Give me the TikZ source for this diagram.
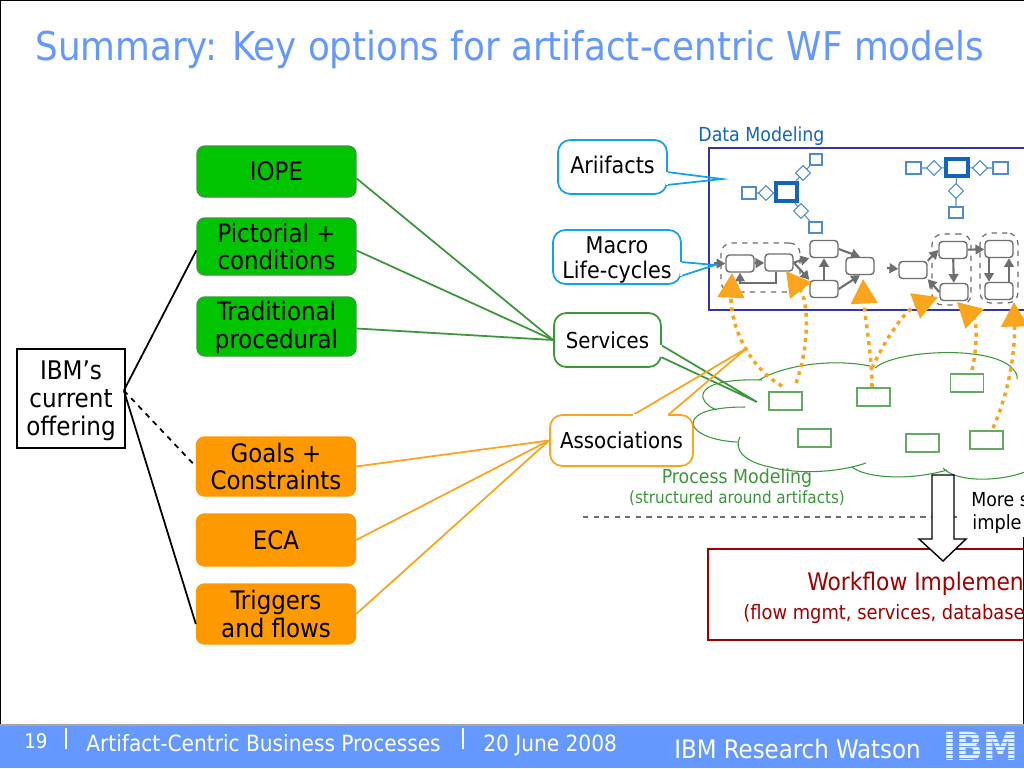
\documentclass[tikz,border=0pt]{standalone}
\usepackage{fontspec}
\setmainfont{DejaVu Sans Condensed}
\usetikzlibrary{arrows.meta,shapes.geometric}
\definecolor{wfblue}{RGB}{102,153,255}
\definecolor{boxgreen}{RGB}{0,196,0}
\definecolor{boxorange}{RGB}{255,153,0}
\definecolor{linegreen}{RGB}{60,150,60}
\definecolor{lineorange}{RGB}{250,165,30}
\definecolor{callblue}{RGB}{20,160,240}
\definecolor{schemablue}{RGB}{20,100,190}
\definecolor{wfgrey}{RGB}{110,110,110}
\definecolor{wfred}{RGB}{160,0,0}
\tikzset{
  optbox/.style={rounded corners=4.5pt, fill=#1, line width=0.8pt, minimum width=3.18cm, align=center, font=\fontsize{14.5}{15.8}\selectfont, inner sep=0pt},
  callbox/.style={rounded corners=7pt, draw=#1, fill=white, line width=1pt, align=center, font=\fontsize{12.5}{14.5}\selectfont, inner sep=0pt},
  procbox/.style={draw=linegreen!80, fill=white, line width=0.7pt, minimum width=0.66cm, minimum height=0.36cm, inner sep=0pt},
  lifebox/.style={rounded corners=2pt, draw=wfgrey, fill=white, line width=0.8pt, minimum width=0.56cm, minimum height=0.34cm, inner sep=0pt},
  entbox/.style={draw=schemablue!75, fill=white, line width=0.7pt, inner sep=0pt},
  keybox/.style={draw=schemablue, fill=white, line width=2pt, inner sep=0pt},
  reldiamond/.style={draw=schemablue!75, fill=white, line width=0.6pt, inner sep=0pt, minimum size=0.3cm, shape=diamond},
  lifearrow/.style={draw=wfgrey, line width=1.2pt, -{Triangle[length=5pt,width=5.5pt]}},
  dotarrow/.style={lineorange, line width=2pt, dash pattern=on 2.2pt off 2.6pt, -{Triangle[length=14pt,width=15pt,fill=lineorange]}},
  cloudline/.style={draw=linegreen, line width=0.6pt},
  foottext/.style={text=white, anchor=base west, inner sep=0pt, font=\fontsize{12.75}{13}\selectfont}
}
\begin{document}
\begin{tikzpicture}[x=0.02cm, y=-0.02cm]
\clip (0,0) rectangle (1024,768);
\fill [white] (0,0) rectangle (1024,768);

% slide frame and title
\draw [black, line width=1pt] (0,725) -- (0,0) -- (1024,0);
\draw [black, line width=1pt] (1024,537) -- (1024,725);
\node [anchor=base west, inner sep=0pt, text=wfblue, font=\fontsize{22.6}{24}\selectfont] (title) at (35,60) {Summary: Key options for artifact-centric WF models};

% left column
\node [draw=black, fill=white, line width=1pt, minimum width=2.16cm, minimum height=1.98cm, align=center, inner sep=0pt, font=\fontsize{14.6}{15.8}\selectfont] (ibm) at (71,398.5) {\rule{0pt}{13.5pt}IBM’s\\current\\offering};

\node [optbox=boxgreen, draw=linegreen, minimum height=1.02cm] (iope) at (276.5,171.5) {IOPE};
\node [optbox=boxgreen, draw=linegreen, minimum height=1.14cm] (pict) at (276.5,246.5) {Pictorial +\\conditions};
\node [optbox=boxgreen, draw=linegreen, minimum height=1.18cm] (trad) at (276.5,326.5) {\rule{0pt}{12.5pt}Traditional\\procedural};
\node [optbox=boxorange, draw=boxorange, minimum height=1.18cm] (goal) at (276,466.5) {Goals +\\Constraints};
\node [optbox=boxorange, draw=boxorange, minimum height=1.04cm] (eca) at (276,540) {ECA};
\node [optbox=boxorange, draw=boxorange, minimum height=1.2cm] (trig) at (276,614) {Triggers\\and flows};

% data modeling box
\draw [draw=blue!60!black!80, line width=0.8pt] (1030,148) -- (709,148) -- (709,310) -- (1030,310);
\node [anchor=base west, inner sep=0pt, text=schemablue, font=\fontsize{11}{12}\selectfont] (dlabel) at (698,141) {Data Modeling};

% artifact schema, left
\node [keybox, minimum width=0.42cm, minimum height=0.36cm] (k1) at (786.5,192) {};
\node [entbox, minimum width=0.28cm, minimum height=0.24cm] (e1) at (749,193) {};
\node [entbox, minimum width=0.24cm, minimum height=0.22cm] (e2) at (816,159.5) {};
\node [entbox, minimum width=0.26cm, minimum height=0.22cm] (e3) at (815.5,227.5) {};
\coordinate (r1) at (766,193);
\coordinate (r2) at (803,173);
\coordinate (r3) at (801,211);
\begin{scope}[draw=schemablue!75, line width=0.6pt]
\draw (e1) -- (r1) -- (k1);
\draw (k1) -- (r2) -- (e2);
\draw (k1) -- (r3) -- (e3);
\end{scope}
\node [reldiamond] (d1) at (r1) {};
\node [reldiamond] (d2) at (r2) {};
\node [reldiamond] (d3) at (r3) {};

% artifact schema, right
\node [keybox, minimum width=0.44cm, minimum height=0.34cm] (k2) at (957,167.5) {};
\node [entbox, minimum width=0.3cm, minimum height=0.24cm] (e4) at (913.5,168) {};
\node [entbox, minimum width=0.3cm, minimum height=0.24cm] (e5) at (1000.5,168) {};
\node [entbox, minimum width=0.28cm, minimum height=0.22cm] (e6) at (956,212.5) {};
\coordinate (r4) at (934,168);
\coordinate (r5) at (980,168);
\coordinate (r6) at (956,191);
\begin{scope}[draw=schemablue!75, line width=0.6pt]
\draw (e4) -- (r4) -- (k2);
\draw (k2) -- (r5) -- (e5);
\draw (k2) -- (r6) -- (e6);
\end{scope}
\node [reldiamond] (d4) at (r4) {};
\node [reldiamond] (d5) at (r5) {};
\node [reldiamond] (d6) at (r6) {};

% life-cycle groups
\begin{scope}[line width=0.7pt, dashed, rounded corners=6pt]
\node [draw=wfgrey, minimum width=1.58cm, minimum height=0.98cm] (g1) at (760.5,267.5) {};
\node [draw=wfgrey, minimum width=0.78cm, minimum height=1.42cm] (g2) at (951.5,269.5) {};
\node [draw=wfgrey, minimum width=0.76cm, minimum height=1.4cm] (g3) at (999,268) {};
\end{scope}

\node [lifebox] (la) at (740,263.5) {};
\node [lifebox] (lb) at (779,262.5) {};
\node [lifebox] (lc) at (824,249) {};
\node [lifebox] (ld) at (824,289) {};
\node [lifebox] (le) at (860,266) {};
\node [lifebox] (lf) at (913,270) {};
\node [lifebox] (lg) at (953,250) {};
\node [lifebox] (lh) at (954,292) {};
\node [lifebox] (li) at (999,249) {};
\node [lifebox] (lj) at (999,291) {};
\coordinate (linA) at (714,263.5);
\coordinate (linF) at (887,268);
\coordinate (loopL) at (740,283);

\begin{scope}[lifearrow]
\draw (linA) -- (la);
\draw (la) -- (lb);
\draw (lb.east) -- (lc.south west);
\draw (lb.east) -- (ld.north west);
\draw (ld) -- (lc);
\draw (lc.east) -- (le.north);
\draw (ld.east) -- (le.south);
\draw (linF) -- (lf);
\draw (lf.north east) -- (lg.west);
\draw (lh.west) -- (lf.south east);
\draw (lg) -- (lh);
\draw (lg) -- (li);
\draw ([xshift=-0.2cm]li.south) -- ([xshift=-0.2cm]lj.north);
\draw ([xshift=0.2cm]lj.north) -- ([xshift=0.2cm]li.south);
\draw ([xshift=-0.06cm]lb.south) |- (loopL) -- (la.south);
\end{scope}

% process modeling cloud
\begin{scope}[cloudline]
\draw (759,380) .. controls (782,366) and (830,358) .. (870,366);
\draw (875,368) .. controls (895,350) and (990,345) .. (1012,368) .. controls (1016,372) and (1018,376) .. (1017,379);
\draw (762,380) .. controls (735,379) and (700,382) .. (703,398) .. controls (705,404) and (711,408) .. (717,410);
\draw (745,407) .. controls (715,407) and (693,412) .. (693,424) .. controls (695,434) and (715,441) .. (737,442);
\draw (740,437) .. controls (733,450) and (745,462) .. (770,467) .. controls (800,475) and (840,472) .. (866,463);
\draw (852,467) .. controls (865,478) and (910,481) .. (947,470);
\draw (943,468) .. controls (955,482) and (1000,483) .. (1030,470);
\end{scope}

\node [procbox] (p1) at (785.5,401) {};
\node [procbox] (p2) at (873.5,397) {};
\node [procbox] (p3) at (967,383) {};
\node [procbox] (p4) at (814.5,438) {};
\node [procbox] (p5) at (922.5,443) {};
\node [procbox] (p6) at (986.5,440) {};

\node [text=linegreen, inner sep=0pt, font=\fontsize{11}{12}\selectfont] (plabel) at (737,478) {Process Modeling};
\node [text=linegreen, inner sep=0pt, font=\fontsize{9.6}{11}\selectfont] (plabel2) at (737,498) {(structured around artifacts)};

% orange dotted arrows
\draw [dotarrow] (782,386) .. controls (745,365) and (730,320) .. (732,273);
\draw [dotarrow] (796,383) .. controls (810,345) and (808,300) .. (786,271);
\draw [dotarrow] (872,387) .. controls (872,355) and (865,320) .. (863,279);
\draw [dotarrow] (872,368) .. controls (885,340) and (905,310) .. (938,297);
\draw [dotarrow] (972,370) .. controls (978,345) and (976,320) .. (957,302);
\draw [dotarrow] (993,428) .. controls (1010,390) and (1015,350) .. (1014,302);

% connectors from the left column
\begin{scope}[line width=1pt]
\draw [black] (ibm.east) ++(-2,-8) -- ([yshift=-0.08cm]pict.west);
\draw [black, dashed] (ibm.east) ++(-2,-8) -- (goal.west);
\draw [black] (ibm.east) ++(-2,-8) -- ([yshift=-0.2cm]trig.west);
\end{scope}

% callouts
\node [callbox=linegreen, minimum width=2.14cm, minimum height=1.08cm] (serv) at (607.5,340) {Services};
\node [callbox=lineorange, minimum width=2.86cm, minimum height=1.02cm] (asso) at (621.5,440.5) {Associations};
\node [callbox=callblue, minimum width=2.18cm, minimum height=1.08cm, font=\fontsize{13.1}{14.5}\selectfont, text depth=2pt] (arti) at (612.5,167) {Ariifacts};
\node [callbox=callblue, minimum width=2.56cm, minimum height=1.08cm, font=\fontsize{13.1}{14.3}\selectfont] (macr) at (617,257) {\rule{0pt}{12.5pt}Macro\\Life-cycles};

\begin{scope}[line width=1pt]
\draw [linegreen] (iope.east) ++(0,7) -- (serv.west);
\draw [linegreen] (pict.east) ++(0,4) -- (serv.west);
\draw [linegreen] (trad.east) ++(0,2) -- (serv.west);
\draw [lineorange] (goal.east) -- (asso.west);
\draw [lineorange] (eca.east) -- (asso.west);
\draw [lineorange] (trig.east) -- (asso.west);
\end{scope}

\coordinate (artiA) at (667,172);
\coordinate (artiB) at (667,185);
\coordinate (artiT) at (722,179);
\coordinate (macrA) at (681,262);
\coordinate (macrB) at (681,276);
\coordinate (macrT) at (715,265);
\coordinate (servA) at (661,345);
\coordinate (servB) at (661,357);
\coordinate (servT) at (757,402);
\coordinate (assoA) at (633,415);
\coordinate (assoB) at (668,415);
\coordinate (assoT) at (747,348);

\draw [callblue, line width=1pt] (artiA) -- (artiT) -- (artiB);
\draw [white, line width=1.4pt] (artiA) -- (artiB);
\draw [callblue, line width=1pt] (macrA) -- (macrT) -- (macrB);
\draw [white, line width=1.4pt] (macrA) -- (macrB);
\draw [linegreen, line width=1pt] (servA) -- (servT) -- (servB);
\draw [white, line width=1.4pt] (servA) -- (servB);
\draw [lineorange, line width=1pt] (assoA) -- (assoT) -- (assoB);
\draw [white, line width=1.4pt] (assoA) -- (assoB);

% implementation part
\coordinate (dashL) at (583,517);
\coordinate (dashR) at (958,517);
\draw [wfgrey, line width=0.7pt, dashed] (dashL) -- (dashR);

\draw [draw=wfred, line width=0.7pt] (1030,549) -- (708,549) -- (708,640) -- (1030,640);
\node [anchor=base west, inner sep=0pt, text=wfred, font=\fontsize{13.8}{15}\selectfont] (wlabel) at (807,590) {Workflow Implemen};
\node [anchor=base west, inner sep=0pt, text=wfred, font=\fontsize{11.3}{12}\selectfont] (wlabel2) at (743,619) {(flow mgmt, services, database};
\node [anchor=base west, inner sep=0pt, font=\fontsize{11}{12}\selectfont] (more) at (971,506) {More s};
\node [anchor=base west, inner sep=0pt, font=\fontsize{11.2}{12}\selectfont] (imple) at (972,529) {imple};

\filldraw [draw=black, fill=white, line width=0.8pt] (932,475) -- (954,475) -- (954,539) -- (966,539) -- (943,561) -- (919,539) -- (932,539) -- cycle;

% footer
\fill [wfblue] (0,725) rectangle (1024,768);
\draw [gray!70, line width=0.6pt] (0,725) -- (1024,725);
\node [foottext, font=\fontsize{11.5}{12}\selectfont] (fnum) at (24,748) {19};
\node [foottext] (fname) at (86,751) {Artifact-Centric Business Processes};
\node [foottext] (fdate) at (483,751) {20 June 2008};
\node [foottext, font=\fontsize{14.5}{15}\selectfont] (fibm) at (674,758) {IBM Research Watson};
\draw [white, line width=0.8pt] (66,728) -- (66,749);
\draw [white, line width=0.8pt] (463,728) -- (463,749);
\node [inner sep=0pt, text=white!85!wfblue, font=\fontsize{22}{23}\bfseries\selectfont] (logo) at (981,746) {IBM};
\foreach \y in {733.5,737.5,741.5,745.5,749.5,753.5,757.5} {\fill [wfblue] (944,\y) rectangle (1018,\y+1.6);}
\end{tikzpicture}
\end{document}
